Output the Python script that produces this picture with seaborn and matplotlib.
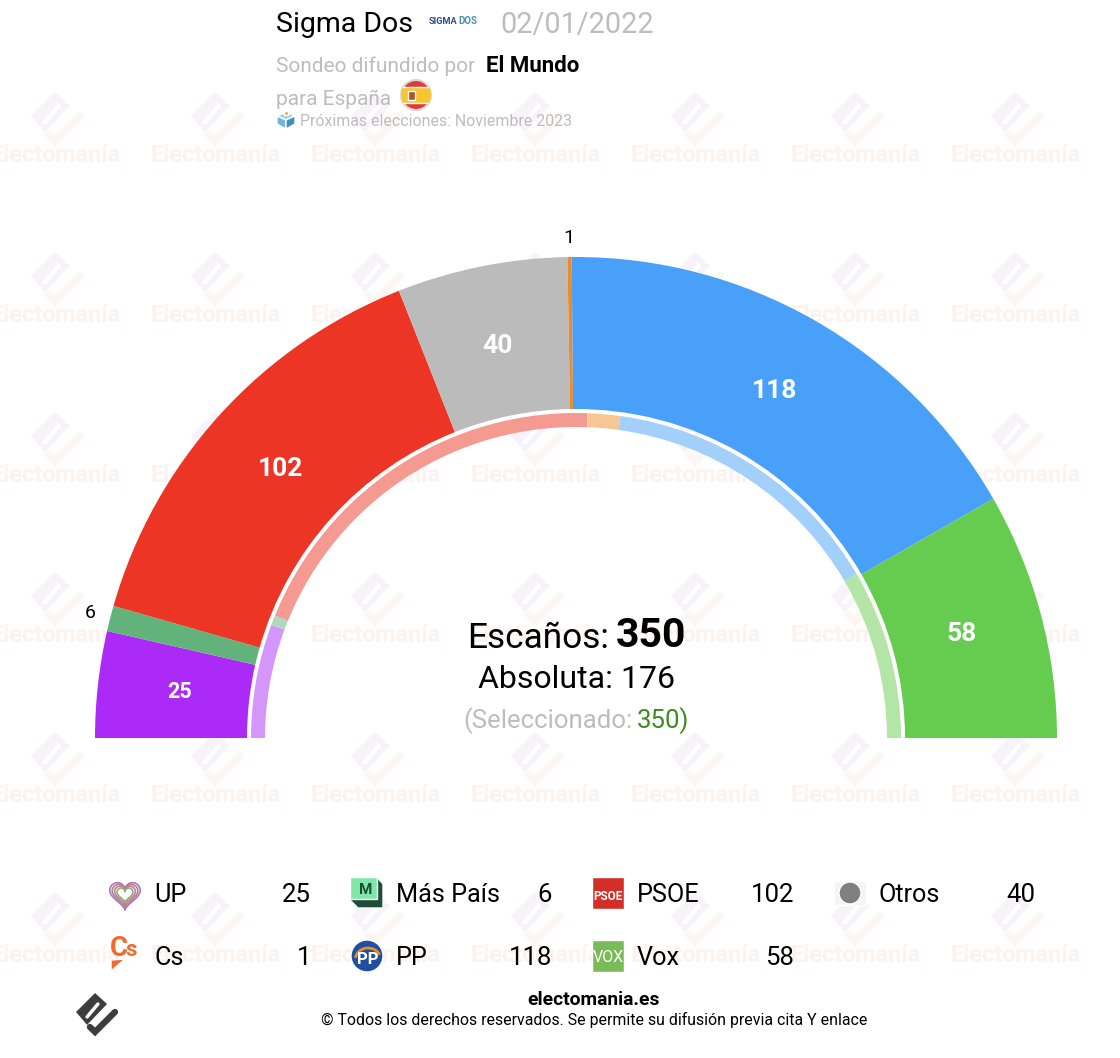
import matplotlib
matplotlib.use("Agg")
import matplotlib.pyplot as plt
from matplotlib.patches import Arc, Circle, Polygon, Rectangle
import numpy as np
import pandas as pd
import seaborn as sns

# seats, in the order they run round the arc
PARTIES = ["UP", "Más País", "PSOE", "Otros", "Cs", "PP", "Vox"]
SEATS = [25, 6, 102, 40, 1, 118, 58]
COLOURS = ["#AC2AF8", "#62B27B", "#EC3524", "#BBBBBB", "#EE8A2A", "#48A0F9", "#66CC4F"]

# thin inner ring, previous result
RING_PARTIES = ["UP", "Más País", "PSOE", "Cs", "PP", "Vox"]
RING_SEATS = [35, 3, 120, 10, 89, 52]
RING_COLOURS = ["#D596FB", "#AFD8BC", "#F59A91", "#F6C794", "#A3CFFB", "#B2E5A6"]

LEGEND_ROWS = [["UP", "Más País", "PSOE", "Otros"], ["Cs", "PP", "Vox"]]

W, H = 1120, 1058
CX, CY = 576, 738


def py(y):
    # reference is measured from the top
    return H - y


sns.set_theme(style="white")
plt.rcParams["font.family"] = ["Roboto", "DejaVu Sans"]

fig = plt.figure(figsize=(W / 100, H / 100), dpi=100, facecolor="white")
ax = fig.add_axes([0, 0, 1, 1])


def put(x, y, s, **kw):
    # roboto sits a little high with va=center
    kw.setdefault("zorder", 5)
    kw.setdefault("va", "center")
    return ax.text(x, py(y + 2), s, **kw)


def draw_logo(x, y, s, body_col, tick_col, z=1):
    # electomania diamond: filled body, white slot, check mark
    body = np.array([[-0.05, -1.0], [0.58, -0.42], [-0.47, 0.68], [-1.05, 0.0]])
    slot = np.array([[-0.47, 0.26], [0.1, -0.42]])
    tick = np.array([[-0.32, 0.79], [-0.05, 1.05], [1.0, 0.0]])
    ax.add_patch(Polygon(np.column_stack([x + body[:, 0] * s, py(y + body[:, 1] * s)]), facecolor=body_col,
                         edgecolor="none", zorder=z))
    ax.plot(x + slot[:, 0] * s, py(y + slot[:, 1] * s), color="white", lw=s * 0.13, solid_capstyle="round", zorder=z)
    ax.plot(x + tick[:, 0] * s, py(y + tick[:, 1] * s), color=tick_col, lw=s * 0.24, solid_joinstyle="miter", zorder=z)


# watermark grid
for wx in np.arange(56, 1120, 160):
    for wy in np.arange(152, 1058, 160):
        draw_logo(wx, wy - 36, 24, "#F6F3FA", "#FDF6F2")
        put(wx, wy + 1, "Electomanía", color="#FDF3EE", fontsize=16.8, fontweight="bold", ha="center", zorder=1)

# main arc and inner ring: a hidden wedge takes the lower half
main = pd.DataFrame({"party": PARTIES, "seats": SEATS})
ring = pd.DataFrame({"party": RING_PARTIES, "seats": RING_SEATS})
palette = sns.color_palette(COLOURS)
ring_palette = sns.color_palette(RING_COLOURS)

ax.pie(list(main.seats) + [main.seats.sum()], colors=palette + ["none"], startangle=180, counterclock=False,
       radius=481, center=(CX, py(CY)), wedgeprops=dict(width=152, linewidth=0, zorder=2), frame=True)
ax.pie(list(ring.seats) + [ring.seats.sum()], colors=ring_palette + ["none"], startangle=180, counterclock=False,
       radius=325, center=(CX, py(CY)), wedgeprops=dict(width=14, linewidth=0, zorder=2), frame=True)
ax.set_xlim(0, W)
ax.set_ylim(0, H)
ax.set_aspect("equal")
ax.set_xticks([])
ax.set_yticks([])
sns.despine(ax=ax, left=True, bottom=True)
for sp in ax.spines.values():
    sp.set_visible(False)

# seat labels on the arc
total = sum(SEATS)
cum = 0
for name, val in zip(PARTIES, SEATS):
    mid = np.pi * (1 - (cum + val / 2) / total)
    cum += val
    if val > 10:
        fs = 19 if val != 25 else 15.5
        ax.text(CX + 399 * np.cos(mid), py(CY) + 399 * np.sin(mid) + 1, str(val), color="white", fontsize=fs,
                fontweight="bold", ha="center", va="center", zorder=5)
    else:
        nudge = 2 if val == 6 else 0
        ax.text(CX + 502 * np.cos(mid), py(CY) + 502 * np.sin(mid) - 2 + nudge, str(val), color="black",
                fontsize=14, ha="center", va="center", zorder=5)

# header
put(276, 23, "Sigma Dos", fontsize=20.5, color="black")
put(429, 19.5, "SIGMA", fontsize=6.6, color="#2B4F86", fontweight="bold")
put(458, 19.5, "DOS", fontsize=7, color="#4B92B0", fontweight="bold")
put(500, 23, "02/01/2022", fontsize=20.8, color="#BDBDBD")
put(276, 64, "Sondeo difundido por", fontsize=15, color="#BDBDBD")
put(486, 64, "El Mundo", fontsize=16, color="black", fontweight="bold")
put(276, 97, "para España", fontsize=15, color="#BDBDBD")
put(300, 119, "Próximas elecciones: Noviembre 2023", fontsize=11.4, color="#BDBDBD")

# spanish flag
flag = Circle((416, py(95)), 15, facecolor="#E03A3E", edgecolor="#D8D8D8", lw=1.5, zorder=5)
ax.add_patch(flag)
band = Rectangle((400, py(103)), 32, 16, facecolor="#F7C531", zorder=6)
band.set_clip_path(flag)
ax.add_patch(band)
ax.add_patch(Rectangle((407.5, py(100)), 7, 9, facecolor="#B5532C", zorder=7))

# ballot box
ax.add_patch(Polygon([(277, py(116)), (286, py(112)), (295, py(116)), (286, py(120))], facecolor="#9CD3EC", zorder=5))
ax.add_patch(Polygon([(277, py(116)), (286, py(120)), (286, py(129)), (277, py(124))], facecolor="#6FB4D8", zorder=5))
ax.add_patch(Polygon([(295, py(116)), (286, py(120)), (286, py(129)), (295, py(124))], facecolor="#3F8FBF", zorder=5))
ax.add_patch(Rectangle((284, py(115)), 4, 4, facecolor="#F0A24A", zorder=5))

# centre totals
put(609, 636, "Escaños:", fontsize=25.4, color="black", ha="right")
put(616, 634, "350", fontsize=29.5, color="black", fontweight="bold", ha="left")
put(576, 677, "Absoluta: 176", fontsize=23, color="black", ha="center")
put(463, 719, "(Seleccionado:", fontsize=18.5, color="#BDBDBD", ha="left")
put(637, 719, "350)", fontsize=18.5, color="#3F8A22", ha="left")


# legend icons, rough versions of the party logos
def draw_icon(name, x, y):
    if name == "UP":
        t = np.linspace(0, 2 * np.pi, 80)
        hx, hy = 16 * np.sin(t) ** 3, 13 * np.cos(t) - 5 * np.cos(2 * t) - 2 * np.cos(3 * t) - np.cos(4 * t)
        for k, c in zip((0.95, 0.8, 0.65, 0.5), ("#A678B8", "#B57C9A", "#C77F8C", "#8FAE7E")):
            ax.plot(x + hx * k, py(y - hy * k + 1), color=c, lw=1.2, zorder=5)
    elif name == "Más País":
        ax.add_patch(Polygon([(350, 1058 - 877), (377, 1058 - 877), (383, 1058 - 884), (383, 1058 - 908),
                              (358, 1058 - 908), (350, 1058 - 900)], facecolor="#1E4D38", zorder=5))
        ax.add_patch(Rectangle((350, py(899)), 27, 22, facecolor="#7FE8A8", zorder=6))
        ax.text(x - 1, py(y - 3), "M", fontsize=11, fontweight="bold", color="#1E4D38", ha="center", va="center", zorder=7)
    elif name == "PSOE":
        ax.add_patch(Rectangle((x - 16, py(y + 16)), 32, 32, facecolor="#D32F26", zorder=5))
        ax.text(x, py(y + 3), "PSOE", fontsize=8.5, fontweight="bold", color="white", ha="center", va="center", zorder=6)
    elif name == "Otros":
        ax.add_patch(Rectangle((x - 16, py(y + 12)), 32, 24, facecolor="#F4F4F4", zorder=5))
        ax.add_patch(Circle((x, py(y)), 11, facecolor="#808080", zorder=6))
    elif name == "Cs":
        ax.text(x - 15, py(y - 7), "C", fontsize=20, fontweight="bold", color="#F26A2E", ha="left", va="center", zorder=5)
        ax.text(x, py(y - 6), "s", fontsize=16, fontweight="bold", color="#F26A2E", ha="left", va="center", zorder=5)
        ax.add_patch(Polygon([(111, py(y + 4)), (125, py(y + 3)), (111, py(y + 15))], facecolor="#F26A2E", zorder=5))
    elif name == "PP":
        ax.add_patch(Circle((x, py(y)), 16, facecolor="#1F4F9E", zorder=5))
        ax.add_patch(Arc((x + 1, py(y) - 3), 25, 22, theta1=20, theta2=175, color="#F08A24", lw=2, zorder=6))
        ax.text(x + 1, py(y + 3), "PP", fontsize=12, fontweight="bold", color="white", ha="center", va="center", zorder=7)
    elif name == "Vox":
        ax.add_patch(Rectangle((x - 16, py(y + 16)), 32, 32, facecolor="#79BC57", zorder=5))
        ax.text(x, py(y + 2), "VOX", fontsize=11.5, color="white", ha="center", va="center", zorder=6)


col_icon = [125, 367, 608, 850]
col_name = [154, 396, 637, 879]
col_val = [311, 552, 794, 1035]
row_y = [893, 956]
seat_of = dict(zip(PARTIES, SEATS))
for r, row in enumerate(LEGEND_ROWS):
    for c, name in enumerate(row):
        draw_icon(name, col_icon[c], row_y[r])
        put(col_name[c], row_y[r], name, fontsize=18.2, color="black")
        put(col_val[c], row_y[r], str(seat_of[name]), fontsize=18.5, color="black", ha="right")

# footer
draw_logo(96, 1012, 19, "#3D3D3D", "#3D3D3D", z=5)
put(594, 998, "electomania.es", fontsize=13.9, fontweight="bold", color="black", ha="center")
put(594, 1018, "© Todos los derechos reservados. Se permite su difusión previa cita Y enlace", fontsize=11.4,
    color="black", ha="center")

fig.savefig("out.png", dpi=100)
